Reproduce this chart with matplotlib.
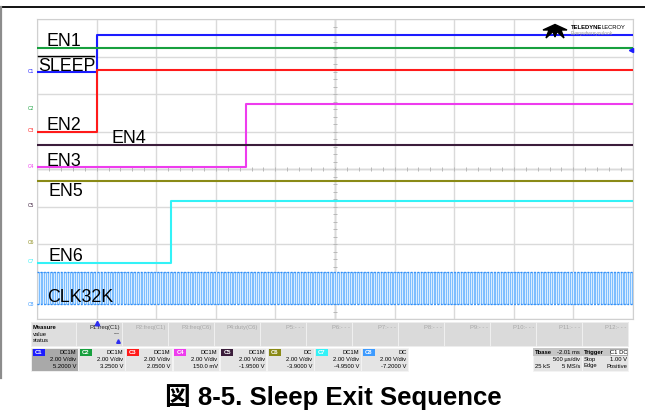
import matplotlib.pyplot as plt
from matplotlib.patches import Rectangle, Polygon
import numpy as np

W, H = 645, 418

# ---- scope settings: 500 us/div, 2 V/div ----
t_left, t_right = -0.5, 4.5          # ms, trigger one division from the left
v_bottom, v_top = -8.0, 8.0          # V on screen

channels = ["C1", "C2", "C3", "C4", "C5", "C6", "C7", "C8"]
trace_colors = ["#1c1cff", "#17a03e", "#ff1a1a", "#ee3cee", "#3b1d3b", "#8a8a16", "#33f2f7", "#3d9bff"]
offsets_v = [5.2, 3.25, 2.05, 0.15, -1.95, -3.9, -4.95, -7.2]
low_v = [0.0, 3.2, -0.05, -0.05, 3.23, 3.26, -0.05, 0.0]
high_v = [1.95, 3.2, 3.23, 3.32, 3.23, 3.26, 3.24, 1.7]
rise_ms = [0.0, None, 0.0, 1.25, None, None, 0.625, None]
clk_khz = 32.768

trace_labels = ["EN1", "SLEEP", "EN2", "EN4", "EN3", "EN5", "EN6", "CLK32K"]

coupling = ["DC1M", "DC1M", "DC1M", "DC1M", "DC1M", "DC", "DC1M", "DC"]
vdiv = ["2.00 V/div"] * 8
offset_txt = ["5.2000 V", "3.2500 V", "2.0500 V", "150.0 mV", "-1.9500 V", "-3.9000 V", "-4.9500 V", "-7.2000 V"]
meas_names = ["P1:freq(C1)", "P2:freq(C1)", "P3:freq(C6)", "P4:duty(C6)", "P5:- - -", "P6:- - -",
              "P7:- - -", "P8:- - -", "P9:- - -", "P10:- - -", "P11:- - -", "P12:- - -"]

fig = plt.figure(figsize=(W / 100, H / 100), dpi=100)
fig.patch.set_facecolor("white")

# overlay axes in pixel coordinates for the UI panels
ui = fig.add_axes([0, 0, 1, 1], zorder=0)
ui.set_xlim(0, W)
ui.set_ylim(H, 0)
ui.axis("off")

# scope grid
x0p, x1p, y0p, y1p = 37, 633, 19, 319
ax = fig.add_axes([x0p / W, 1 - y1p / H, (x1p - x0p) / W, (y1p - y0p) / H], zorder=1)
ax.set_xlim(t_left, t_right)
ax.set_ylim(v_bottom, v_top)
ax.set_xticks(np.linspace(t_left, t_right, 11))
ax.set_yticks(np.linspace(v_bottom, v_top, 9))
ax.tick_params(length=0, labelbottom=False, labelleft=False)
ax.grid(True, color="#dadada", lw=1.0)
for s in ax.spines.values():
    s.set_color("#d0d0d0")
tc = (t_left + t_right) / 2
ax.axvline(tc, color="#b4b4b4", lw=1.0, zorder=1)
ax.axhline(0, color="#c4c4c4", lw=1.0, zorder=1)
ax.plot(np.linspace(t_left, t_right, 51), np.zeros(51), ls="none", marker="|", ms=3, color="#b8b8b8", mew=0.7)
ax.plot(np.full(41, tc), np.linspace(v_bottom, v_top, 41), ls="none", marker="_", ms=3, color="#b8b8b8", mew=0.7)

# step traces
for i in range(7):
    off = offsets_v[i]
    if rise_ms[i] is None:
        t = [t_left, t_right]
        v = [off + low_v[i], off + high_v[i]]
    else:
        t = [t_left, rise_ms[i], rise_ms[i], t_right]
        v = [off + low_v[i], off + low_v[i], off + high_v[i], off + high_v[i]]
    ax.plot(t, v, color=trace_colors[i], lw=1.5, zorder=3)

# 32 kHz clock
period = 1.0 / clk_khz
edges = np.arange(t_left, t_right, period / 2)
t_clk = np.repeat(edges, 2)[1:]
lv = np.tile([0, 1], len(edges) // 2 + 1)[:len(edges)]
v_clk = np.repeat(lv, 2)[:-1]
v_clk = offsets_v[7] + np.where(v_clk == 1, high_v[7], low_v[7])
ax.fill_between([t_left, t_right], offsets_v[7] + low_v[7], offsets_v[7] + high_v[7], color="#d9ecff", zorder=2, lw=0)
ax.plot(t_clk, v_clk, color="#62b0ff", lw=0.55, zorder=3)
ax.plot([t_left, t_right], [offsets_v[7] + high_v[7]] * 2, color="#2f8cf5", lw=1.0, ls=(0, (1.2, 1.2)), zorder=3)
ax.plot([t_left, t_right], [offsets_v[7] + low_v[7]] * 2, color="#2f8cf5", lw=1.0, ls=(0, (1.2, 1.2)), zorder=3)

# channel markers on the left edge
for i, ch in enumerate(channels):
    ax.text(t_left - 0.02, offsets_v[i], ch, color=trace_colors[i], fontsize=3.5, ha="right", va="center",
            clip_on=False)
# trigger level marker at the right edge
ax.plot([t_right - 0.015], [offsets_v[0] + 1.15], marker="<", ms=3, color="#1c1cff", clip_on=False, zorder=4)

# trace names
lab_font = dict(fontsize=12.8, family="Liberation Sans", color="black", va="baseline", ha="left", zorder=5)
label_px = [(46, 46), (38, 71), (46, 130), (111, 143), (46, 166), (48, 196), (48, 261), (47, 302)]
for name, (px, py) in zip(trace_labels, label_px):
    fig.text(px / W, 1 - py / H, name, **lab_font)
fig.add_artist(plt.Line2D([38 / W, 94 / W], [1 - 55.5 / H, 1 - 55.5 / H], color="black", lw=1.0))

# Teledyne LeCroy logo
logo = Polygon([(543, 30), (555, 24.5), (567, 30), (561, 30), (564, 38), (557, 31.5), (555, 37),
                (553, 31.5), (546, 38), (549, 30)], closed=True, color="black", zorder=6)
ax_logo = fig.add_axes([0, 0, 1, 1], zorder=2)
ax_logo.set_xlim(0, W)
ax_logo.set_ylim(H, 0)
ax_logo.axis("off")
ax_logo.add_patch(logo)
ax_logo.text(571, 29, "TELEDYNE", fontsize=4.2, weight="bold", family="Liberation Sans", va="baseline")
ax_logo.text(601, 29, "LECROY", fontsize=4.2, family="Liberation Sans", va="baseline")
ax_logo.text(571, 34.5, "Everywhereyoulook", fontsize=3.4, color="#9a9a9a", family="Liberation Sans",
             va="baseline")
# trigger time marker
ax_logo.plot([96.5], [322.5], marker="^", ms=3.2, color="#2d2df0", zorder=7)

# frame lines
ui.plot([0, W], [7, 7], color="black", lw=1.3)
ui.plot([1, 1], [7, 378], color="#8c8c8c", lw=1.6)

# ---- measurement row ----
sf = dict(family="Liberation Sans", fontsize=4.2)
ui.add_patch(Rectangle((31, 322), 597, 24, fc="#d9d9d9", ec="#cfcfcf", lw=0.5))
ui.add_patch(Rectangle((31, 322), 45, 24, fc="#dedede", ec="#f4f4f4", lw=0.6))
ui.text(33, 327.5, "Measure", weight="bold", va="center", **sf)
ui.text(33, 334, "value", va="center", **sf)
ui.text(33, 340.5, "status", va="center", **sf)
for i, name in enumerate(meas_names):
    cx = 76 + i * 46
    ui.add_patch(Rectangle((cx, 322), 46, 24, fc="#dadada", ec="#f2f2f2", lw=0.6))
    col = "#202020" if i == 0 else "#a6a6a6"
    ui.text(cx + 44, 327.5, name, color=col, ha="right", va="center", **sf)
ui.text(120, 334, "---", ha="right", va="center", **sf)
ui.plot([118], [341], marker="^", ms=2.6, color="#2d2df0")

# ---- channel row ----
for i, ch in enumerate(channels):
    bx = 31 + i * 47.2
    fc = "#a9a9a9" if i == 0 else "#e4e4e4"
    ui.add_patch(Rectangle((bx, 348), 46.5, 23, fc=fc, ec="#f4f4f4", lw=0.6))
    ui.add_patch(Rectangle((bx + 1.5, 349), 12, 7, fc=trace_colors[i], ec="none"))
    ui.text(bx + 7.5, 352.5, ch, color="white", ha="center", va="center", weight="bold", **sf)
    ui.text(bx + 45, 352.5, coupling[i], ha="right", va="center", **sf)
    ui.text(bx + 45, 359.5, vdiv[i], ha="right", va="center", **sf)
    ui.text(bx + 45, 366, offset_txt[i], ha="right", va="center", **sf)

# timebase box
ui.add_patch(Rectangle((533, 348), 48.5, 23, fc="#e4e4e4", ec="#f4f4f4", lw=0.6))
ui.add_patch(Rectangle((533, 348), 48.5, 8, fc="#c6c6c6", ec="none"))
ui.text(535, 352.5, "Tbase", weight="bold", va="center", **sf)
ui.text(580, 352.5, "-2.01 ms", ha="right", va="center", **sf)
ui.text(580, 359.5, "500 \u00b5s/div", ha="right", va="center", **sf)
ui.text(535, 366, "25 kS", va="center", **sf)
ui.text(580, 366, "5 MS/s", ha="right", va="center", **sf)
# trigger box
ui.add_patch(Rectangle((582, 348), 46, 23, fc="#e4e4e4", ec="#f4f4f4", lw=0.6))
ui.add_patch(Rectangle((582, 348), 46, 8, fc="#c6c6c6", ec="none"))
ui.text(584, 352.5, "Trigger", weight="bold", va="center", **sf)
ui.add_patch(Rectangle((610, 349.2), 17, 6, fc="white", ec="#808080", lw=0.4))
ui.text(618.5, 352.3, "C1 DC", ha="center", va="center", **sf)
ui.text(584, 359.5, "Stop", va="center", **sf)
ui.text(627, 359.5, "1.00 V", ha="right", va="center", **sf)
ui.text(584, 366, "Edge", va="center", **sf)
ui.text(627, 366, "Positive", ha="right", va="center", **sf)

# caption
ui.text(333, 397, "図 8-5. Sleep Exit Sequence", ha="center", va="center", fontsize=18.5, weight="bold",
        family=["Liberation Sans", "Noto Sans CJK JP"])

fig.savefig("out.png", dpi=100)
